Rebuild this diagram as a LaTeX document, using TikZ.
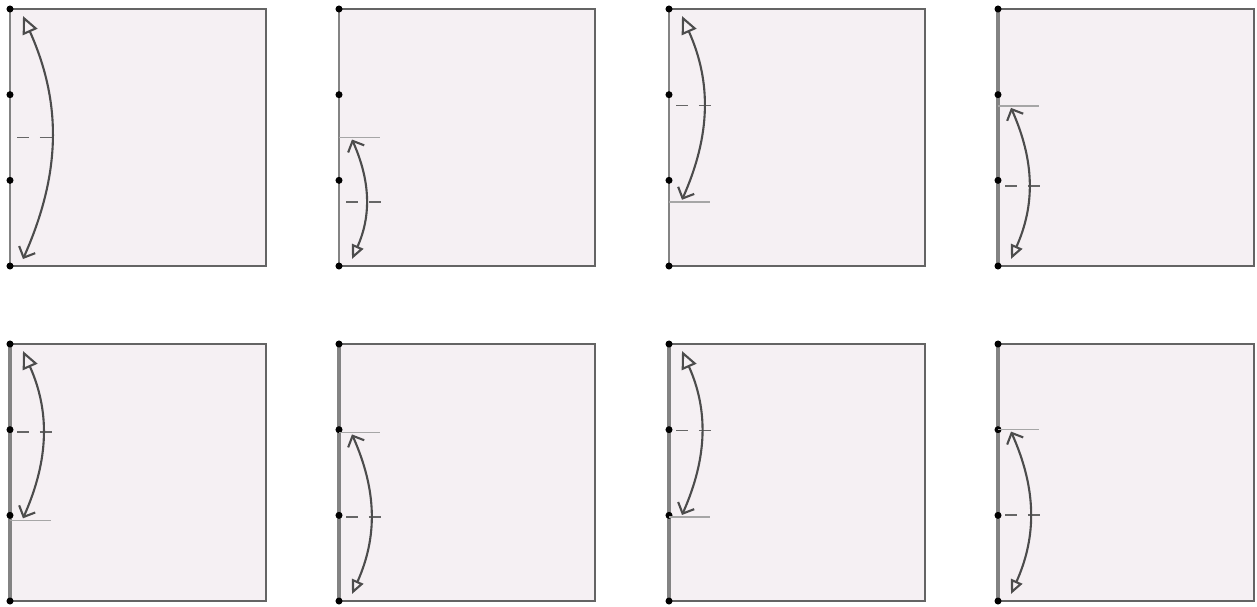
\documentclass[tikz,border=0pt]{standalone}
\usetikzlibrary{arrows.meta}
\usetikzlibrary{calc}

\definecolor{panelfill}{RGB}{245,240,243}
\definecolor{edgegray}{RGB}{100,100,100}

\begin{document}
\begin{tikzpicture}[x=0.02cm,y=-0.02cm]
    \useasboundingbox (0,0) rectangle (1257,606);
    \tikzset{
        panel/.style={draw=edgegray,line width=1.2pt,fill=panelfill},
        leftedge/.style={draw=edgegray!80},
        dot/.style={circle,fill=black,inner sep=0pt,minimum size=4pt},
        arc/.style={draw=black!70,line width=1.2pt},
        midtick/.style={draw=black!60,line width=1pt,dash pattern=on 7pt off 6pt},
        limit/.style={draw=gray!70,line width=0.9pt},
        opentop/.style={arrows={Triangle[open,length=10pt,width=9pt]-Straight Barb[length=5pt,width=10pt]}},
        openbot/.style={arrows={Straight Barb[length=5pt,width=10pt]-Triangle[open,length=8pt,width=7pt]}}
    }

    \foreach \n/\px/\py/\s/\e/\t/\lw in {1/10/9/0/1/opentop/1.4pt,
            2/339/9/0.5/1/openbot/1.2pt,
            3/669/9/0/0.75/opentop/1.2pt,
            4/998/9/0.377/1/openbot/2.6pt,
            5/10/344/0/0.686/opentop/2pt,
            6/339/344/0.344/1/openbot/2.6pt,
            7/669/344/0/0.673/opentop/2pt,
            8/998/344/0.333/1/openbot/2.6pt}{
        % panel and division points
        \draw[panel] (\px,\py) rectangle ++(256,257);
        \foreach \k in {0,1,2,3}{
            \coordinate (d\n\k) at (\px,{\py+\k*257/3});
        }
        \draw[leftedge,line width=\lw] (d\n0) -- (d\n3);
        \foreach \k in {0,1,2,3}{
            \node[dot] (p\n\k) at (d\n\k) {};
        }

        % span of the swing
        \pgfmathsetmacro\ys{\py+\s*257+(\s==0 ? 7 : 2)}
        \pgfmathsetmacro\ye{\py+\e*257-(\e==1 ? 7 : 2)}
        \pgfmathsetmacro\ym{\py+(\s+\e)*257/2}
        \pgfmathsetmacro\yl{(\s>0 ? \py+\s*257 : \py+\e*257)}
        \coordinate (a\n) at (\px+13,\ys);
        \coordinate (b\n) at (\px+13,\ye);
        \coordinate (m\n) at (\px+7,\ym);
        \coordinate (l\n) at (\px,\yl);

        \ifnum\n>1
            \draw[limit] (l\n) -- ++(41,0);
        \fi
        \draw[midtick] (m\n) -- ++(35,0);
        \draw[arc,\t] (a\n) to[bend left=24] (b\n);
    }
\end{tikzpicture}
\end{document}
